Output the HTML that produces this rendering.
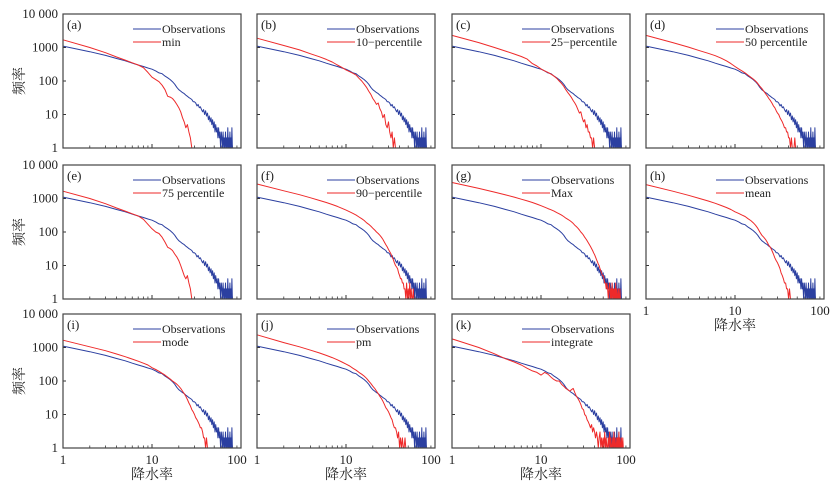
<!DOCTYPE html>
<html><head><meta charset="utf-8"><style>
body{margin:0;background:#fff}
svg{display:block;font-family:"Liberation Serif","Noto Serif CJK SC",serif}
</style></head><body>
<svg id="chart" width="836" height="490" viewBox="0 0 836 490"></svg>
<script>
const panelLabels=["(a)","(b)","(c)","(d)","(e)","(f)","(g)","(h)","(i)","(j)","(k)"];
const seriesNames=["min","10−percentile","25−percentile","50 percentile","75 percentile","90−percentile","Max","mean","mode","pm","integrate"];
const yTicks=[1,10,100,1000,10000];
const yTickLabels=["1","10","100","1000","10 000"];
const xTicks=[1,10,100];
const xTickLabels=["1","10","100"];
const obs=[1100,750,580,470,400,340,300,270,245,225,200,175,165,140,125,110,95,80,65,55,50,45,42,38,35,32,30,28,24,24,22,18,20,16,17,14,12,14,10,13,9,11,7,9,6,8,5,7,4,6,3,5,3,4,2,4,2,3,1,3,2,1,3,1,2,1,3,1,2,1,4,1,2,1,3,1,2,1,4,1];
const redA=[1700,1000,700,520,420,350,300,250,180,130,110,95,75,55,35,33,30,25,20,16,12,8,6,4,5,3,2,1];
const redB=[1900,1150,850,650,530,440,370,300,255,215,190,170,150,120,100,80,65,50,40,30,25,20,22,15,12,8,10,5,4,6,3,2,3,1,2,1];
const redC=[2300,1400,1000,780,640,540,450,330,280,230,200,180,160,140,120,100,85,70,55,45,38,32,26,22,18,14,11,12,8,6,7,4,5,3,3,2,2,1,2,1,1,1];
const redD=[2300,1400,1030,800,670,570,480,400,330,270,230,200,175,150,130,115,100,85,70,60,50,42,36,30,26,22,18,16,13,11,10,8,7,6,5,4,4,3,3,2,2,1,2,1,1,1,2,1];
const redE=[1650,1000,700,520,420,350,300,240,170,125,100,90,70,50,35,32,28,22,18,14,10,7,5,4,5,3,2,1];
const redF=[2700,1700,1300,1050,880,760,660,580,510,450,400,360,320,280,250,220,190,170,150,130,115,100,90,80,70,60,50,42,36,30,26,22,18,15,12,10,9,8,6,5,4,4,3,3,2,2,1,3,1,2,1,3,1,2,1,1,2,1,1];
const redG=[3000,2000,1550,1280,1100,950,850,760,680,610,550,500,460,420,380,350,320,290,260,240,220,200,180,160,145,130,115,100,90,80,70,62,55,48,42,37,32,28,24,21,18,15,13,11,10,8,7,6,5,5,4,3,3,2,3,2,1,2,3,1,2,1,3,1,2,1,2,1,3,1,2,1,1,2,1,1,2,1];
const redH=[2600,1650,1250,1000,840,720,620,540,470,400,360,320,290,250,220,190,160,130,100,80,70,60,50,40,35,28,22,17,14,12,10,8,6,5,4,3,3,2,2,1,2,1,1];
const redI=[1650,1050,800,640,530,450,390,340,300,250,220,195,170,150,130,115,100,90,80,70,60,50,42,35,28,22,18,14,12,10,8,7,6,5,4,4,3,2,2,1,2,1,1,1];
const redJ=[2400,1400,1050,830,690,580,500,430,370,320,280,240,210,180,160,140,120,100,85,70,60,50,42,35,30,25,20,16,14,12,10,8,7,5,4,4,3,2,3,1,2,1,2,1,1,2,1,1];
const redK=[1800,1000,650,460,370,300,240,200,180,150,180,160,130,110,100,100,80,70,60,55,50,55,60,45,35,30,25,20,15,14,10,9,7,6,5,4,5,3,4,3,2,3,2,1,2,3,1,2,1,2,1,3,1,2,1,1,2,1,3,1,2,1,1,2,1,3,1,2,1,1,2,1,2,1,3,1,2,1,1,2,1,1,2,1,1];
const reds=[redA,redB,redC,redD,redE,redF,redG,redH,redI,redJ,redK];

const svg=document.getElementById('chart');
const NS='http://www.w3.org/2000/svg';
function mk(tag,attrs,parent){const e=document.createElementNS(NS,tag);for(const k in attrs)e.setAttribute(k,attrs[k]);(parent||svg).appendChild(e);return e;}
const lefts=[63,257,452,646], tops=[14,165,314], W=178, H=134;
for(let p=0;p<11;p++){
  const col=p%4,row=Math.floor(p/4);
  const L=lefts[col],T=tops[row];
  const xs=v=>L+Math.log10(v)/2*W;
  const ys=v=>T+H-Math.log10(Math.max(v,1))/4*H;
  const g=mk('g',{});
  
  
  // ticks
  for(let d=0;d<2;d++)for(let m=2;m<=9;m++){const x=xs(m*Math.pow(10,d));const t=mk('line',{x1:x,x2:x,y1:T+H,y2:T+H-(m===1?4:2.5),stroke:'#333','stroke-width':0.8},g);}
  xTicks.forEach(v=>{const x=xs(v);mk('line',{x1:x,x2:x,y1:T+H,y2:T+H-4,stroke:'#333','stroke-width':1},g);});
  yTicks.forEach(v=>{const y=ys(v);const t=mk('line',{x1:L,x2:L+3,y1:y,y2:y,stroke:'#333','stroke-width':1},g);});
  // series
  function line(arr,color,name){
    const pts=arr.map((v,i)=>xs(i+1).toFixed(1)+','+ys(v).toFixed(1)).join(' ');
    const pl=mk('polyline',{points:pts,fill:'none',stroke:color,'stroke-width':1,'stroke-linejoin':'round'},g);
    
    
  }
  line(obs,'#2b3fa0','observations-line');
  line(reds[p],'#ee2a2a','model-line');
  const box=mk('rect',{x:L,y:T,width:W,height:H,fill:'none',stroke:'#444','stroke-width':1.2},g);
  
  const pl=mk('text',{x:L+4,y:T+15,'font-size':13,fill:'#222'},g);pl.textContent=panelLabels[p];
  
  // legend
  const lx=L+W-108;
  const lg=mk('g',{},g);
  mk('line',{x1:lx,x2:lx+28,y1:T+15,y2:T+15,stroke:'#2b3fa0','stroke-width':1},lg);
  const t1=mk('text',{x:lx+29,y:T+19,'font-size':12,fill:'#222'},lg);t1.textContent='Observations';
  
  mk('line',{x1:lx,x2:lx+28,y1:T+28,y2:T+28,stroke:'#ee2a2a','stroke-width':1},lg);
  const t2=mk('text',{x:lx+29,y:T+32,'font-size':12,fill:'#222'},lg);t2.textContent=seriesNames[p];
  
  if(col===0){
    yTicks.forEach((v,i)=>{const t=mk('text',{x:L-5,y:ys(v)+4,'font-size':13,'text-anchor':'end',fill:'#222'});t.textContent=yTickLabels[i];});
    const yt=mk('text',{x:0,y:0,'font-size':14,'text-anchor':'middle',fill:'#222',transform:`translate(24,${T+H/2}) rotate(-90)`});
    yt.textContent='频率';
  }
  if(row===2||p===7){
    xTicks.forEach((v,i)=>{const t=mk('text',{x:xs(v)-(i===2?4:0),y:T+H+16,'font-size':13,'text-anchor':'middle',fill:'#222'});t.textContent=xTickLabels[i];});
    const xt=mk('text',{x:L+W/2,y:T+H+31,'font-size':14,'text-anchor':'middle',fill:'#222'});
    xt.textContent='降水率';
  }
}
</script>
</body></html>
